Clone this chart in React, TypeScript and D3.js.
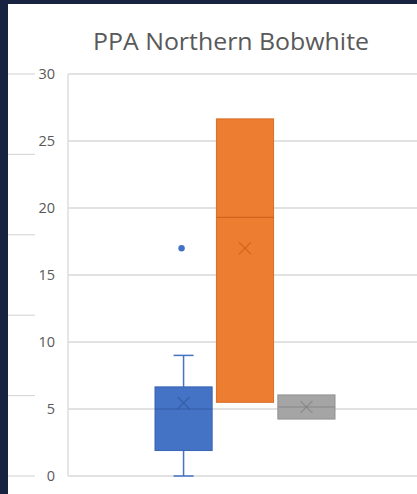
import React from "react";
import * as d3 from "d3";

const W = 417;
const H = 494;

const title = "PPA Northern Bobwhite";
const yTicks = [0, 5, 10, 15, 20, 25, 30];
const series = ["Series A", "Series B", "Series C"];
const q1 = [1.9, 5.5, 4.25];
const q3 = [6.65, 26.65, 6.05];
const medians = [5.0, 19.3, 5.15];
const means = [5.45, 17.0, 5.15];
const whiskLow = [0, null, null];
const whiskHigh = [9, null, null];
const outliers = [[17], [], []];
const fills = ["#4472C4", "#ED7D31", "#A5A5A5"];
const strokes = ["#3763b3", "#d86e26", "#919191"];
const darks = ["#2f5597", "#c55a11", "#7f7f7f"];
// gridline stubs of a neighbouring chart visible at the left edge
const stubTicks = [0, 1, 2, 3, 4, 5];

export default function App() {
  const y = d3.scaleLinear().domain([0, 30]).range([476, 74]);
  const x = d3.scaleBand().domain(series).range([155, 335]).paddingInner(0.07).paddingOuter(0);
  const stubY = d3.scaleLinear().domain([0, 5]).range([476, 74]);
  const plotLeft = 68;
  const bw = x.bandwidth();
  return (
    <div style={{ position: "fixed", left: 0, top: 0 }}>
      <svg width={W} height={H} style={{ display: "block" }}>
        <rect x={0} y={0} width={W} height={H} fill="#172340" />
        <rect x={8} y={4} width={W - 8} height={H - 4} fill="#ffffff" />
        {stubTicks.map((t) => (
          <line key={"s" + t} x1={8} x2={35} y1={stubY(t)} y2={stubY(t)} stroke="#d9d9d9" strokeWidth={1.2} />
        ))}
        <text x={231} y={50} textAnchor="middle" fontFamily="'Open Sans', 'Noto Sans', sans-serif" fontSize={24.5} fill="#595959" textLength={276} lengthAdjust="spacingAndGlyphs">
          {title}
        </text>
        {yTicks.map((t) => (
          <g key={t}>
            <line x1={plotLeft} x2={W} y1={y(t)} y2={y(t)} stroke="#d9d9d9" strokeWidth={1.3} />
            <text x={55} y={y(t)} dy="0.36em" textAnchor="end" fontFamily="'Open Sans', 'Noto Sans', sans-serif" fontSize={14.5} fill="#595959">
              {t}
            </text>
          </g>
        ))}
        <line x1={plotLeft} x2={plotLeft} y1={y(30)} y2={y(0)} stroke="#d9d9d9" strokeWidth={1.3} />
        {series.map((s, i) => {
          const x0 = x(s)!;
          const cx = x0 + bw / 2;
          const lo = whiskLow[i];
          const hi = whiskHigh[i];
          const m = means[i];
          const my = y(m);
          return (
            <g key={s}>
              {hi != null && (
                <>
                  <line x1={cx} x2={cx} y1={y(hi)} y2={y(q3[i])} stroke={fills[i]} strokeWidth={1.5} />
                  <line x1={cx - 10} x2={cx + 10} y1={y(hi)} y2={y(hi)} stroke={fills[i]} strokeWidth={1.5} />
                </>
              )}
              {lo != null && (
                <>
                  <line x1={cx} x2={cx} y1={y(q1[i])} y2={y(lo)} stroke={fills[i]} strokeWidth={1.5} />
                  <line x1={cx - 10} x2={cx + 10} y1={y(lo)} y2={y(lo)} stroke={fills[i]} strokeWidth={1.5} />
                </>
              )}
              <rect x={x0} y={y(q3[i])} width={bw} height={y(q1[i]) - y(q3[i])} fill={fills[i]} stroke={strokes[i]} strokeWidth={1} />
              <line x1={x0} x2={x0 + bw} y1={y(medians[i])} y2={y(medians[i])} stroke={darks[i]} strokeWidth={1.2} strokeOpacity={0.7} />
              <g stroke={darks[i]} strokeWidth={1.3} strokeOpacity={0.6}>
                <line x1={cx - 6} x2={cx + 6} y1={my - 6} y2={my + 6} />
                <line x1={cx - 6} x2={cx + 6} y1={my + 6} y2={my - 6} />
              </g>
              {outliers[i].map((o, k) => (
                <circle key={k} cx={cx - 2} cy={y(o)} r={3.2} fill={fills[i]} />
              ))}
            </g>
          );
        })}
      </svg>
    </div>
  );
}
